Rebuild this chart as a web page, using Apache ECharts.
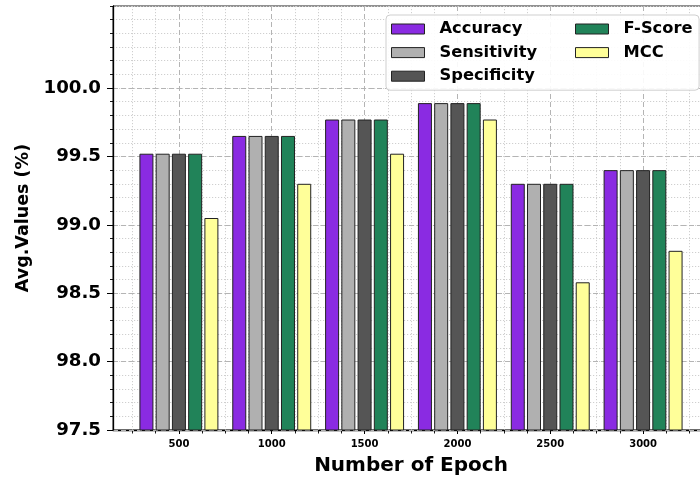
<!DOCTYPE html>
<html>
<head>
<meta charset="utf-8">
<script src="https://cdn.jsdelivr.net/npm/echarts@6/dist/echarts.min.js"></script>
<style>
  html, body { margin: 0; padding: 0; background: #fff; }
  #chart { width: 700px; height: 477px; }
</style>
</head>
<body>
<div id="chart"></div>
<script>
// Epoch groups along the x axis
const epochs = [500, 1000, 1500, 2000, 2500, 3000];

// Average metric values (%) per epoch count
const accuracy    = [99.52, 99.65, 99.77, 99.89, 99.30, 99.40];
const sensitivity = [99.52, 99.65, 99.77, 99.89, 99.30, 99.40];
const specificity = [99.52, 99.65, 99.77, 99.89, 99.30, 99.40];
const fScore      = [99.52, 99.65, 99.77, 99.89, 99.30, 99.40];
const mcc         = [99.05, 99.30, 99.52, 99.77, 98.58, 98.81];

// Labelled y ticks
const yTicks = [97.5, 98.0, 98.5, 99.0, 99.5, 100.0];

const seriesNames  = ['Accuracy', 'Sensitivity', 'Specificity', 'F-Score', 'MCC'];
const seriesValues = [accuracy, sensitivity, specificity, fScore, mcc];
const seriesColors = ['#8a2be2', '#b0b0b0', '#555555', '#218359', '#ffff99'];

const FONT = 'DejaVu Sans';
const X_MIN = 145, X_MAX = 3355;
const Y_MIN = 97.5, Y_MAX = 100.6;

const chart = echarts.init(document.getElementById('chart'), null, { renderer: 'canvas' });

const legendText = {
  fontFamily: FONT, fontWeight: 'bold', fontSize: 16.3, color: '#000',
  lineHeight: 16, padding: [0, 0, 0, 10]
};
const legendCommon = {
  orient: 'vertical',
  icon: 'rect',
  itemWidth: 33,
  itemHeight: 10,
  itemGap: 7.6,
  itemStyle: { borderColor: '#222', borderWidth: 1 },
  textStyle: legendText,
  selectedMode: true
};

const option = {
  animation: false,
  backgroundColor: '#fff',
  grid: {
    left: 113, right: -9, top: 6, bottom: 47,
    outerBoundsMode: 'none',
    containLabel: false,
    show: true, borderColor: '#222', borderWidth: 1, backgroundColor: 'transparent'
  },
  legend: [
    Object.assign({}, legendCommon, {
      left: 386, top: 15,
      padding: [6, 162, 6, 5],
      backgroundColor: 'rgba(255,255,255,0.9)',
      borderColor: '#cfcfcf', borderWidth: 1, borderRadius: 4,
      data: seriesNames.slice(0, 3),
      z: 4
    }),
    Object.assign({}, legendCommon, {
      left: 575, top: 21,
      padding: 0,
      data: seriesNames.slice(3),
      z: 5
    })
  ],
  xAxis: [{
    type: 'value',
    min: X_MIN, max: X_MAX,
    minInterval: 500, maxInterval: 500, splitNumber: 6,
    name: 'Number of Epoch',
    nameLocation: 'middle',
    nameGap: 26,
    nameTextStyle: { fontFamily: FONT, fontWeight: 'bold', fontSize: 20, color: '#000' },
    axisLine: { show: true, onZero: false, lineStyle: { color: '#000', width: 1.3 } },
    axisTick: { show: true, length: 4, customValues: epochs, lineStyle: { color: '#000', width: 1 } },
    minorTick: { show: true, splitNumber: 4, length: 3.5, lineStyle: { color: '#000', width: 0.9 } },
    axisLabel: {
      customValues: epochs,
      fontFamily: FONT, fontWeight: 'bold', fontSize: 10, color: '#000', margin: 9,
      formatter: v => String(v)
    },
    splitLine: { show: true, lineStyle: { color: '#b4b4b4', type: [5, 3], width: 1 } },
    minorSplitLine: { show: true, lineStyle: { color: '#cfcfcf', type: [1.2, 1.8], width: 1 } }
  }],
  yAxis: [{
    type: 'value',
    min: Y_MIN, max: Y_MAX, interval: 0.5,
    name: 'Avg.Values (%)',
    nameLocation: 'middle',
    nameGap: 78,
    nameTextStyle: { fontFamily: FONT, fontWeight: 'bold', fontSize: 17.5, color: '#000' },
    axisLine: { show: true, lineStyle: { color: '#000', width: 1.3 } },
    axisTick: { show: true, length: 6, customValues: yTicks, lineStyle: { color: '#000', width: 1 } },
    axisLabel: {
      customValues: yTicks,
      fontFamily: FONT, fontWeight: 'bold', fontSize: 18.2, color: '#000', margin: 12,
      formatter: v => v.toFixed(1)
    },
    splitLine: { show: true, lineStyle: { color: '#b4b4b4', type: [5, 3], width: 1 } },
    z: 1
  }, {
    type: 'value',
    min: Y_MIN, max: Y_MAX, interval: 0.1,
    position: 'left',
    axisLine: { show: false },
    axisTick: { show: true, length: 3, lineStyle: { color: '#000', width: 0.9 } },
    axisLabel: { show: false },
    splitLine: { show: true, lineStyle: { color: '#cfcfcf', type: [1.2, 1.8], width: 1 } },
    z: 0
  }],
  series: seriesNames.map((name, i) => ({
    name: name,
    type: 'bar',
    xAxisIndex: 0,
    yAxisIndex: 0,
    barWidth: 14,
    barGap: '16%',
    itemStyle: { color: seriesColors[i], borderColor: '#222', borderWidth: 1 },
    emphasis: { disabled: true },
    data: epochs.map((e, j) => [e, seriesValues[i][j]])
  }))
};

chart.setOption(option);
</script>
</body>
</html>
